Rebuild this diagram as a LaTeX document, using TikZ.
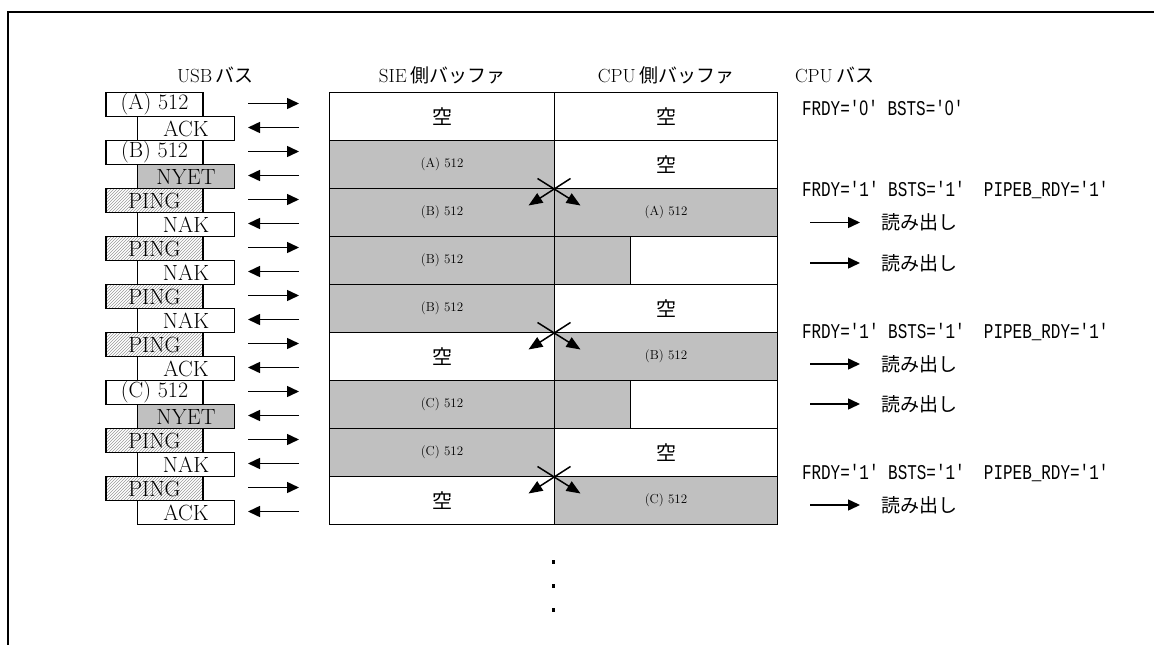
\documentclass[tikz,border=0pt]{standalone}
\usepackage{fontspec}
\usepackage{graphicx}
\usetikzlibrary{arrows.meta,patterns,calc}
\newfontfamily\jpfont{Noto Sans CJK JP}
\newfontfamily\regfont{Liberation Mono}
\newfontfamily\zerofont{Liberation Sans}
\definecolor{bufgray}{HTML}{C0C0C0}
\newcommand{\sq}{\textquotesingle}
\newcommand{\zr}{{\zerofont 0}}
\newcommand{\regtext}[1]{\scalebox{0.76}[1]{\regfont\fontsize{21}{21}\selectfont #1}}
\newcommand{\headtext}[2]{{\fontsize{19}{19}\selectfont #1} {\jpfont\fontsize{19}{19}\selectfont #2}}
\newcommand{\kara}{{\jpfont\fontsize{20}{20}\selectfont 空}}
\newcommand{\dat}[1]{{\fontsize{13}{13}\selectfont #1}}

\begin{document}
\begin{tikzpicture}[x=1pt,y=-1pt,
    every node/.style={align=center,inner sep=0pt,outer sep=0pt},
    pkt/.style={draw,line width=1.5pt,minimum width=97pt,minimum height=24pt,
                font=\fontsize{22}{22}\selectfont},
    datapkt/.style={pkt,fill=white},
    pingpkt/.style={pkt,pattern=north east lines,pattern color=gray!80},
    nyetpkt/.style={pkt,fill=bufgray},
    cell/.style={draw,line width=1.5pt,minimum height=48pt},
    busarrow/.style={-{Triangle[length=12pt,width=11pt]},line width=1.5pt},
    xarrow/.style={-{Triangle[length=14pt,width=11pt]},line width=1.5pt}]
  \useasboundingbox (0,0) rectangle (1154,645);

  % outer frame
  \draw[line width=2.5pt] (8,645) -- (8,12) -- (1154,12);

  % headings
  \node[anchor=west] (hUSB) at (177,75) {\headtext{USB}{バス}};
  \node (hSIE) at (442,75) {\headtext{SIE}{側バッファ}};
  \node (hCPU) at (666,75) {\headtext{CPU}{側バッファ}};
  \node[anchor=west] (hBus) at (795,75) {\headtext{CPU}{バス}};

  % USB bus packets
  \foreach \px/\txt/\kind [count=\i] in {
      154.5/(A) 512/datapkt, 186/ACK/datapkt,
      154.5/(B) 512/datapkt, 186/NYET/nyetpkt,
      154.5/PING/pingpkt, 186/NAK/datapkt,
      154.5/PING/pingpkt, 186/NAK/datapkt,
      154.5/PING/pingpkt, 186/NAK/datapkt,
      154.5/PING/pingpkt, 186/ACK/datapkt,
      154.5/(C) 512/datapkt, 186/NYET/nyetpkt,
      154.5/PING/pingpkt, 186/NAK/datapkt,
      154.5/PING/pingpkt, 186/ACK/datapkt}{
    \pgfmathsetmacro{\py}{80.5+24*\i}
    \node[\kind] (pk\i) at (\px,\py) {\txt};
    \coordinate (ua\i) at (248,\py-1);
    \coordinate (ub\i) at (299,\py-1);
    \ifodd\i
      \draw[busarrow] (ua\i) -- (ub\i);
    \else
      \draw[busarrow] (ub\i) -- (ua\i);
    \fi
  }

  % SIE side buffer
  \foreach \txt/\col [count=\j] in {
      \kara/white, \dat{(A) 512}/bufgray, \dat{(B) 512}/bufgray,
      \dat{(B) 512}/bufgray, \dat{(B) 512}/bufgray, \kara/white,
      \dat{(C) 512}/bufgray, \dat{(C) 512}/bufgray, \kara/white}{
    \node[cell,fill=\col,minimum width=225pt] (sie\j) at (442,68.5+48*\j) {\txt};
  }

  % CPU side buffer
  \foreach \txt/\col [count=\j] in {
      \kara/white, \kara/white, \dat{(A) 512}/bufgray,
      {}/white, \kara/white, \dat{(B) 512}/bufgray,
      {}/white, \kara/white, \dat{(C) 512}/bufgray}{
    \node[cell,fill=\col,minimum width=223pt] (cpu\j) at (666,68.5+48*\j) {\txt};
  }
  \node[cell,fill=bufgray,minimum width=76pt,anchor=west] (part4) at (cpu4.west) {};
  \node[cell,fill=bufgray,minimum width=76pt,anchor=west] (part7) at (cpu7.west) {};

  % buffer swaps
  \foreach \j in {3,6,9}{
    \coordinate (sw\j) at (sie\j.north east);
    \draw[xarrow] ($(sw\j)+(16,-10)$) -- ($(sw\j)+(-26,17)$);
    \draw[xarrow] ($(sw\j)+(-17,-10)$) -- ($(sw\j)+(26,17)$);
  }

  % CPU bus
  \node[anchor=west] (st0) at (802,108) {\regtext{FRDY=\sq\zr\sq\ BSTS=\sq\zr\sq}};
  \foreach \k/\sy in {1/190,2/332,3/473}{
    \node[anchor=west] (st\k) at (802,\sy) {\regtext{FRDY=\sq1\sq\ BSTS=\sq1\sq\ \ PIPEB\_RDY=\sq1\sq}};
  }
  \foreach \k/\ry in {1/222.5,2/263,3/364,4/404,5/505}{
    \coordinate (ra\k) at (810,\ry);
    \coordinate (rb\k) at (860,\ry);
    \node[anchor=west] (rd\k) at (881,\ry) {\jpfont\fontsize{19}{19}\selectfont 読み出し};
    \draw[busarrow] (ra\k) -- (rb\k);
  }

  % continuation
  \foreach \dy in {562,586,610}{
    \fill (551.5,\dy-1.75) rectangle ++(3.5,3.5);
  }
\end{tikzpicture}
\end{document}
